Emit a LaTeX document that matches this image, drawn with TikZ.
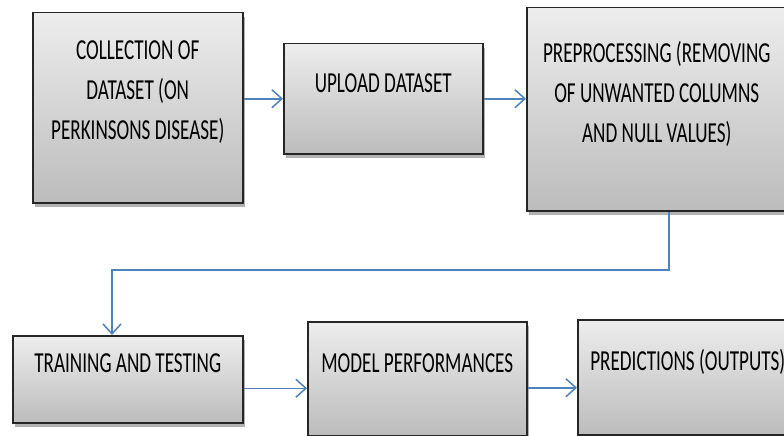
\documentclass[tikz,border=0pt]{standalone}
\usepackage{fontspec}
\setmainfont{Carlito}[FakeStretch=0.66]
\usetikzlibrary{positioning,arrows.meta,shadows}
\definecolor{flowblue}{HTML}{4F81BD}
\definecolor{boxtop}{HTML}{EDEDED}
\definecolor{boxbot}{HTML}{BCBCBC}

\begin{document}
\begin{tikzpicture}[x=1pt,y=-1pt,>={Straight Barb[length=10pt,width=18pt]},
  box/.style={draw=black!85,line width=1.5pt,top color=boxtop,bottom color=boxbot,
    drop shadow={shadow xshift=2pt,shadow yshift=-4pt,opacity=0.3,fill=black},
    anchor=north west,inner sep=0pt},
  lbl/.style={font=\fontsize{29}{40}\selectfont,align=center,inner sep=0pt},
  flow/.style={->,draw=flowblue,line width=1.5pt}]
  \useasboundingbox (0,0) rectangle (784,436);
  % boxes
  \node[box,minimum width=210pt,minimum height=190pt] (collect) at (32,12) {};
  \node[box,minimum width=199pt,minimum height=110pt] (upload) at (283,43) {};
  \node[box,minimum width=270pt,minimum height=203pt] (prep) at (526,7) {};
  \node[box,minimum width=230pt,minimum height=87pt] (train) at (12,335) {};
  \node[box,minimum width=219pt,minimum height=114pt] (perf) at (307,321) {};
  \node[box,minimum width=220pt,minimum height=115pt] (pred) at (577,319) {};
  % texts
  \node[lbl] (collecttext) at ([yshift=16pt]collect.center) {COLLECTION OF\\DATASET (ON\\PERKINSONS DISEASE)};
  \node[lbl] (uploadtext) at ([yshift=16pt]upload.center) {UPLOAD DATASET};
  \node[lbl] (preptext) at ([xshift=-5pt,yshift=15.5pt]prep.center) {PREPROCESSING (REMOVING\\OF UNWANTED COLUMNS\\AND NULL VALUES)};
  \node[lbl] (traintext) at ([yshift=16pt]train.center) {TRAINING AND TESTING};
  \node[lbl] (perftext) at ([yshift=15.5pt]perf.center) {MODEL PERFORMANCES};
  \node[lbl] (predtext) at ([yshift=15.5pt]pred.center) {PREDICTIONS (OUTPUTS)};
  % connectors
  \coordinate (turn) at (112,270);
  \draw[flow] (upload.west -| collect.east) -- (upload.west);
  \draw[flow] (upload.east) -- (upload.east -| prep.west);
  \draw[flow] ([xshift=7pt]prep.south) |- (turn) -- (turn |- train.north);
  \draw[flow] ([yshift=-9pt]train.east) -- ([yshift=-9pt]train.east -| perf.west);
  \draw[flow] ([yshift=-9pt]perf.east) -- ([yshift=-9pt]perf.east -| pred.west);
\end{tikzpicture}
\end{document}
